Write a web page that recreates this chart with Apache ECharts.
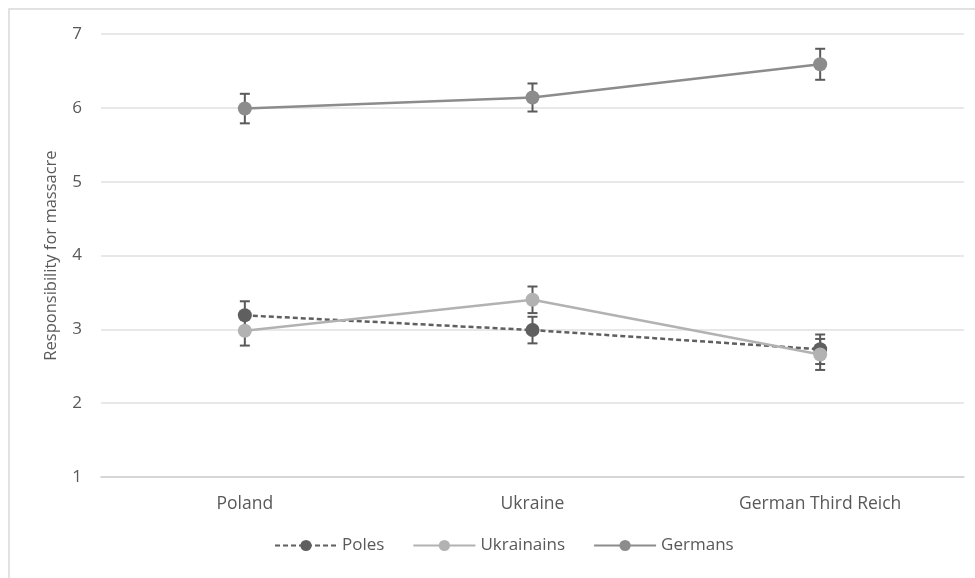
<!DOCTYPE html>
<html>
<head>
<meta charset="utf-8">
<script src="https://cdn.jsdelivr.net/npm/echarts@6/dist/echarts.min.js"></script>
<style>html,body{margin:0;padding:0;background:#fff}#c{width:975px;height:578px}</style>
</head>
<body>
<div id="c"></div>
<script>
var categories = ['Poland', 'Ukraine', 'German Third Reich'];
var polesMean = [3.19, 2.99, 2.73];
var polesErr = [0.19, 0.18, 0.20];
var ukrainiansMean = [2.98, 3.40, 2.66];
var ukrainiansErr = [0.20, 0.18, 0.21];
var germansMean = [5.99, 6.14, 6.59];
var germansErr = [0.20, 0.19, 0.21];
var yTicks = [1, 2, 3, 4, 5, 6, 7];

var FONT = 'Open Sans';
var TXT = '#595959';

function errData(mean, err) {
  return mean.map(function (m, i) { return [i, m - err[i], m + err[i]]; });
}
function errSeries(mean, err, color) {
  return {
    type: 'custom',
    z: 1,
    silent: true,
    data: errData(mean, err),
    encode: { x: 0, y: [1, 2] },
    renderItem: function (params, api) {
      var x = api.value(0);
      var lo = api.coord([x, api.value(1)]);
      var hi = api.coord([x, api.value(2)]);
      var w = 5;
      var st = { stroke: color, lineWidth: 2 };
      return {
        type: 'group',
        children: [
          { type: 'line', shape: { x1: lo[0], y1: lo[1], x2: hi[0], y2: hi[1] }, style: st },
          { type: 'line', shape: { x1: lo[0] - w, y1: lo[1], x2: lo[0] + w, y2: lo[1] }, style: st },
          { type: 'line', shape: { x1: hi[0] - w, y1: hi[1], x2: hi[0] + w, y2: hi[1] }, style: st }
        ]
      };
    }
  };
}
function lineSeries(name, data, color, dashed) {
  return {
    name: name,
    type: 'line',
    z: 3,
    data: data,
    symbol: 'circle',
    symbolSize: 14,
    itemStyle: { color: color },
    lineStyle: { color: color, width: 2.5, type: dashed ? [5, 3] : 'solid' }
  };
}

var chart = echarts.init(document.getElementById('c'), null, { renderer: 'canvas' });
chart.setOption({
  animation: false,
  backgroundColor: '#fff',
  textStyle: { fontFamily: FONT },
  graphic: [{
    type: 'rect',
    shape: { x: 9, y: 9, width: 1000, height: 600 },
    style: { fill: 'none', stroke: '#d9d9d9', lineWidth: 1.5 },
    z: -1
  }],
  grid: { left: 101, right: 11, top: 34, bottom: 101 },
  legend: {
    bottom: 19,
    left: 269,
    itemWidth: 62,
    itemHeight: 14,
    itemGap: 28,
    textStyle: { color: TXT, fontSize: 17, fontFamily: FONT },
    data: ['Poles', 'Ukrainains', 'Germans']
  },
  xAxis: {
    type: 'category',
    data: categories,
    boundaryGap: true,
    axisLine: { lineStyle: { color: '#d0d0d0', width: 1.5 } },
    axisTick: { show: false },
    axisLabel: { color: TXT, fontSize: 17.5, margin: 18, fontFamily: FONT }
  },
  yAxis: {
    type: 'value',
    min: yTicks[0],
    max: yTicks[yTicks.length - 1],
    interval: 1,
    name: 'Responsibility for massacre',
    nameLocation: 'middle',
    nameGap: 41,
    nameTextStyle: { color: TXT, fontSize: 16.5, fontFamily: FONT },
    axisLine: { show: false },
    axisTick: { show: false },
    axisLabel: { color: TXT, fontSize: 17, margin: 19, fontFamily: FONT },
    splitLine: { lineStyle: { color: '#e0e0e0', width: 1.5 } }
  },
  series: [
    errSeries(polesMean, polesErr, '#5a5a5a'),
    errSeries(ukrainiansMean, ukrainiansErr, '#5a5a5a'),
    errSeries(germansMean, germansErr, '#5a5a5a'),
    lineSeries('Poles', polesMean, '#5f5f5f', true),
    lineSeries('Ukrainains', ukrainiansMean, '#b2b2b2', false),
    lineSeries('Germans', germansMean, '#8c8c8c', false)
  ]
});
</script>
</body>
</html>
